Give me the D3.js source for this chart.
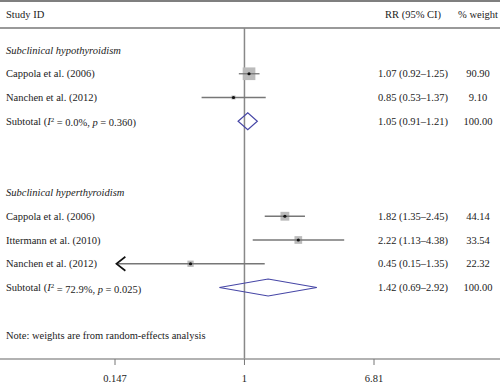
<!DOCTYPE html>
<html lang="en">
<head>
<meta charset="UTF-8">
<title>Forest plot</title>
<script src="https://d3js.org/d3.v7.min.js"></script>
<style>
    body { margin: 0; background: #fff; }
    svg text { font-family: "Liberation Serif", "DejaVu Serif", serif; font-size: 10.5px; fill: #222; }
</style>
</head>
<body>
<div id="chart"></div>
<script>
// rows of the plot, top to bottom ("" = spacer row)
const rowLabels = ["Subclinical hypothyroidism", "Cappola et al. (2006)", "Nanchen et al. (2012)", "Subtotal", "", "",
    "Subclinical hyperthyroidism", "Cappola et al. (2006)", "Ittermann et al. (2010)", "Nanchen et al. (2012)", "Subtotal", "",
    "Note: weights are from random-effects analysis"];
const rowTypes = ["group", "study", "study", "subtotal", "blank", "blank",
    "group", "study", "study", "study", "subtotal", "blank", "note"];
const rr     = [null, 1.07, 0.85, 1.05, null, null, null, 1.82, 2.22, 0.45, 1.42, null, null];
const ciLow  = [null, 0.92, 0.53, 0.91, null, null, null, 1.35, 1.13, 0.15, 0.69, null, null];
const ciHigh = [null, 1.25, 1.37, 1.21, null, null, null, 2.45, 4.38, 1.35, 2.92, null, null];
const weights = [null, 90.90, 9.10, 100.00, null, null, null, 44.14, 33.54, 22.32, 100.00, null, null];
const i2Values = { 3: "0.0%", 10: "72.9%" };
const pValues = { 3: "0.360", 10: "0.025" };
const xTicks = [0.147, 1, 6.81];
const xTickLabels = ["0.147", "1", "6.81"];

const width = 500, height = 386;
const svg = d3.select('#chart').append('svg')
    .attr('width', width)
    .attr('height', height);

const x = d3.scaleLog().domain([0.147, 6.81]).range([115, 374]);
const y = d3.scalePoint().domain(d3.range(rowLabels.length)).range([50, 335]);
const boxSize = d3.scaleSqrt().domain([0, 100]).range([0, 13.3]);

const fmt = d3.format('.2f');
const colRR = 413, colW = 478;
const headerY = 14, headerLine = 28, axisY = 359;

// frame lines
svg.append('line').attr('x1', 0).attr('x2', width).attr('y1', 1).attr('y2', 1)
    .attr('stroke', '#555').attr('stroke-width', 1.5);
svg.append('line').attr('x1', 0).attr('x2', width).attr('y1', headerLine).attr('y2', headerLine)
    .attr('stroke', '#999').attr('stroke-width', 2);

// headers
svg.append('text').attr('x', 6).attr('y', headerY).attr('dy', '0.35em').text('Study ID');
svg.append('text').attr('x', colRR).attr('y', headerY).attr('dy', '0.35em').attr('text-anchor', 'middle').text('RR (95% CI)');
svg.append('text').attr('x', colW).attr('y', headerY).attr('dy', '0.35em').attr('text-anchor', 'middle').text('% weight');

// null line at 1
svg.append('line').attr('x1', x(1)).attr('x2', x(1)).attr('y1', headerLine).attr('y2', axisY)
    .attr('stroke', '#888').attr('stroke-width', 1.5);

// bottom axis
const axis = svg.append('g').attr('transform', `translate(0,${axisY})`);
axis.append('line').attr('x1', 0).attr('x2', width).attr('stroke', '#999').attr('stroke-width', 1.5);
axis.selectAll('.tick').data(xTicks).enter().append('line')
    .attr('x1', d => x(d)).attr('x2', d => x(d)).attr('y1', 0).attr('y2', 6)
    .attr('stroke', '#777');
axis.selectAll('.lbl').data(xTicks).enter().append('text')
    .attr('x', d => x(d)).attr('y', 19).attr('dy', '0.35em').attr('text-anchor', 'middle')
    .text((d, i) => xTickLabels[i]);

const rows = d3.range(rowLabels.length);

// left labels
rows.forEach(i => {
    const t = rowTypes[i];
    if (t === 'blank') return;
    const txt = svg.append('text').attr('x', 6).attr('y', y(i)).attr('dy', '0.35em');
    if (t === 'group') {
        txt.style('font-style', 'italic').text(rowLabels[i]);
    } else if (t === 'subtotal') {
        txt.append('tspan').text('Subtotal (');
        txt.append('tspan').style('font-style', 'italic').text('I');
        txt.append('tspan').attr('dy', '-0.4em').style('font-size', '7px').text('2');
        txt.append('tspan').attr('dy', '0.4em').text(` = ${i2Values[i]}, `);
        txt.append('tspan').style('font-style', 'italic').text('p');
        txt.append('tspan').text(` = ${pValues[i]})`);
    } else {
        txt.text(rowLabels[i]);
    }
    if (t === 'study' || t === 'subtotal') {
        svg.append('text').attr('x', colRR).attr('y', y(i)).attr('dy', '0.35em').attr('text-anchor', 'middle')
            .text(`${fmt(rr[i])} (${fmt(ciLow[i])}\u2013${fmt(ciHigh[i])})`);
        svg.append('text').attr('x', colW).attr('y', y(i)).attr('dy', '0.35em').attr('text-anchor', 'middle')
            .text(fmt(weights[i]));
    }
});

// studies
const studyRows = rows.filter(i => rowTypes[i] === 'study');
svg.selectAll('.box').data(studyRows).enter().append('rect')
    .attr('x', i => x(rr[i]) - boxSize(weights[i]) / 2)
    .attr('y', i => y(i) - boxSize(weights[i]) / 2)
    .attr('width', i => boxSize(weights[i]))
    .attr('height', i => boxSize(weights[i]))
    .attr('fill', '#bbb');
svg.selectAll('.ci').data(studyRows).enter().append('line')
    .attr('x1', i => x(ciLow[i])).attr('x2', i => x(ciHigh[i]))
    .attr('y1', i => y(i)).attr('y2', i => y(i))
    .attr('stroke', '#777').attr('stroke-width', 1.3);
svg.selectAll('.pt').data(studyRows).enter().append('circle')
    .attr('cx', i => x(rr[i])).attr('cy', i => y(i)).attr('r', 1.6)
    .attr('fill', '#111');

// arrow where the CI runs off the left edge
studyRows.filter(i => x(ciLow[i]) - x.range()[0] < 3).forEach(i => {
    const ax = x(ciLow[i]), ay = y(i);
    svg.append('path')
        .attr('d', `M${ax + 9},${ay - 7}L${ax},${ay}L${ax + 9},${ay + 7}`)
        .attr('fill', 'none').attr('stroke', '#111').attr('stroke-width', 1.6);
});

// subtotal diamonds
const subRows = rows.filter(i => rowTypes[i] === 'subtotal');
svg.selectAll('.diamond').data(subRows).enter().append('path')
    .attr('d', i => `M${x(ciLow[i])},${y(i)}L${x(rr[i])},${y(i) - 8.5}L${x(ciHigh[i])},${y(i)}L${x(rr[i])},${y(i) + 8.5}Z`)
    .attr('fill', 'none').attr('stroke', '#4646a6').attr('stroke-width', 1.2);
</script>
</body>
</html>
